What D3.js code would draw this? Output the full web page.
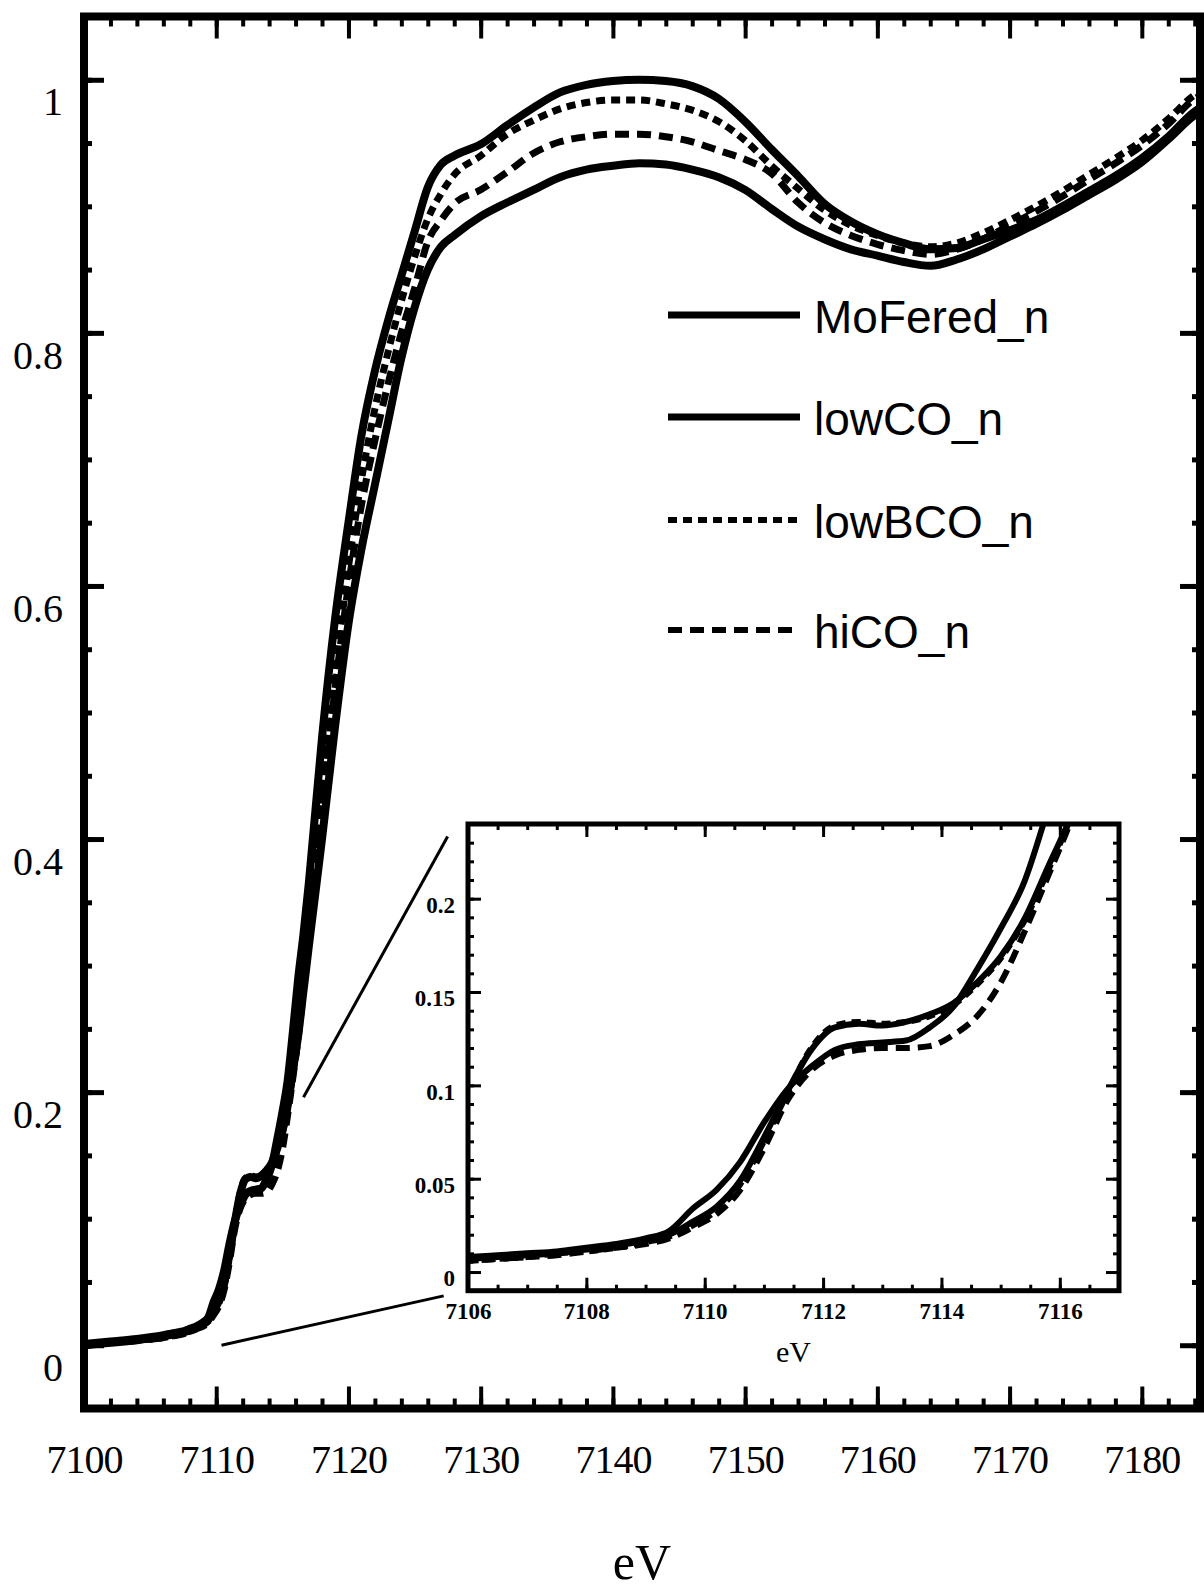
<!DOCTYPE html>
<html>
<head>
<meta charset="utf-8">
<script src="https://cdn.jsdelivr.net/npm/d3@7"></script>
<style>
  html, body { margin: 0; padding: 0; background: #fff; }
  svg { display: block; }
</style>
</head>
<body>
<svg id="chart" width="1204" height="1595"></svg>
<script>
// Photon energy grid (eV), denser through the pre-edge and edge step
const energy = [7100, 7102, 7104, 7106, 7106.5, 7107, 7107.5, 7108, 7108.5, 7109,
  7109.4, 7109.8, 7110.2, 7110.6, 7111.0, 7111.4, 7111.8, 7112.2, 7112.6, 7113.0,
  7113.4, 7113.8, 7114.2, 7114.6, 7115.0, 7115.4, 7115.8, 7116.2, 7116.6, 7117,
  7118, 7119, 7120, 7121, 7122, 7123, 7124, 7125, 7126, 7127,
  7128, 7130, 7132, 7134, 7136, 7138, 7140, 7142, 7144, 7146,
  7148, 7150, 7152, 7154, 7156, 7158, 7160, 7162, 7164, 7166,
  7168, 7170, 7172, 7174, 7176, 7178, 7180, 7182, 7184, 7185];

// Normalized absorption for each sample
const moFered = [0.001, 0.003, 0.005, 0.008, 0.009, 0.010, 0.011, 0.013, 0.015, 0.018,
  0.022, 0.034, 0.044, 0.059, 0.080, 0.098, 0.110, 0.119, 0.122, 0.123,
  0.124, 0.131, 0.142, 0.162, 0.184, 0.209, 0.248, 0.290, 0.325, 0.365,
  0.480, 0.575, 0.650, 0.720, 0.770, 0.810, 0.845, 0.880, 0.915, 0.933,
  0.940, 0.949, 0.964, 0.978, 0.990, 0.996, 0.999, 1.000, 0.999, 0.995,
  0.985, 0.967, 0.945, 0.924, 0.902, 0.888, 0.878, 0.871, 0.866, 0.867,
  0.874, 0.881, 0.889, 0.900, 0.912, 0.924, 0.938, 0.955, 0.975, 0.981];

const lowCO = [0.000, 0.002, 0.004, 0.007, 0.008, 0.009, 0.010, 0.012, 0.014, 0.017,
  0.020, 0.027, 0.035, 0.049, 0.072, 0.097, 0.119, 0.131, 0.133, 0.132,
  0.134, 0.138, 0.144, 0.155, 0.169, 0.189, 0.217, 0.245, 0.280, 0.315,
  0.400, 0.490, 0.570, 0.630, 0.680, 0.730, 0.780, 0.820, 0.850, 0.868,
  0.877, 0.892, 0.903, 0.913, 0.923, 0.929, 0.932, 0.934, 0.933, 0.929,
  0.923, 0.913, 0.898, 0.884, 0.874, 0.866, 0.861, 0.856, 0.853, 0.858,
  0.866, 0.876, 0.886, 0.897, 0.909, 0.921, 0.935, 0.953, 0.972, 0.978];

const lowBCO = [0.000, 0.002, 0.004, 0.006, 0.007, 0.008, 0.010, 0.011, 0.013, 0.016,
  0.019, 0.025, 0.033, 0.047, 0.070, 0.096, 0.120, 0.132, 0.134, 0.133,
  0.134, 0.137, 0.143, 0.154, 0.168, 0.188, 0.215, 0.245, 0.285, 0.330,
  0.430, 0.530, 0.615, 0.685, 0.740, 0.785, 0.825, 0.860, 0.890, 0.910,
  0.925, 0.940, 0.957, 0.968, 0.977, 0.982, 0.984, 0.984, 0.981, 0.976,
  0.967, 0.952, 0.932, 0.914, 0.897, 0.885, 0.877, 0.871, 0.868, 0.871,
  0.879, 0.889, 0.900, 0.912, 0.925, 0.938, 0.952, 0.969, 0.988, 0.993];

const hiCO = [0.000, 0.002, 0.004, 0.006, 0.007, 0.008, 0.009, 0.011, 0.013, 0.015,
  0.018, 0.024, 0.031, 0.044, 0.066, 0.092, 0.108, 0.116, 0.119, 0.120,
  0.120, 0.121, 0.127, 0.137, 0.155, 0.182, 0.212, 0.243, 0.282, 0.325,
  0.425, 0.520, 0.600, 0.665, 0.715, 0.760, 0.800, 0.835, 0.872, 0.889,
  0.902, 0.913, 0.927, 0.942, 0.951, 0.955, 0.957, 0.957, 0.955, 0.951,
  0.944, 0.937, 0.926, 0.903, 0.887, 0.877, 0.870, 0.865, 0.862, 0.866,
  0.874, 0.885, 0.896, 0.908, 0.921, 0.934, 0.948, 0.965, 0.985, 0.990];

const seriesNames = ["MoFered_n", "lowCO_n", "lowBCO_n", "hiCO_n"];
const seriesValues = [moFered, lowCO, lowBCO, hiCO];

// Axis tick labels
const xTickLabels = [7100, 7110, 7120, 7130, 7140, 7150, 7160, 7170, 7180];
const yTickLabels = [0, 0.2, 0.4, 0.6, 0.8, 1];
const insetXTickLabels = [7106, 7108, 7110, 7112, 7114, 7116];
const insetYTickLabels = [0, 0.05, 0.1, 0.15, 0.2];

// Zoom guide segments (energy, absorption) on the main plot
const guideLower = [[7110.4, 0.0], [7127.2, 0.039]];
const guideUpper = [[7116.6, 0.196], [7127.5, 0.402]];

// Line styles per series
const styles = {
  "MoFered_n": { dash: null },
  "lowCO_n":   { dash: null },
  "lowBCO_n":  { dash: [9, 6] },
  "hiCO_n":    { dash: [14, 8] }
};

const series = seriesNames.map((name, i) => ({
  name,
  points: energy.map((e, j) => ({ e, v: seriesValues[i][j] }))
}));

const svg = d3.select("#chart");
svg.append("rect").attr("width", 1204).attr("height", 1595).attr("fill", "#fff");

const serif = "'Liberation Serif', 'Times New Roman', serif";
const sans = "'Liberation Sans', Arial, sans-serif";

// ---------- main plot ----------
const x = d3.scaleLinear().domain([7100, 7184.4]).range([84, 1200]);
const y = d3.scaleLinear().domain([-0.05, 1.05]).range([1408.5, 16.5]);
const [xL, xR] = x.range();
const [yB, yT] = y.range();

const defs = svg.append("defs");
defs.append("clipPath").attr("id", "mainClip")
  .append("rect").attr("x", xL).attr("y", yT).attr("width", xR - xL).attr("height", yB - yT);

const line = d3.line().x(d => x(d.e)).y(d => y(d.v)).curve(d3.curveMonotoneX);

const plot = svg.append("g").attr("clip-path", "url(#mainClip)");
plot.selectAll("path.series")
  .data(series)
  .join("path")
  .attr("class", "series")
  .attr("fill", "none")
  .attr("stroke", "#000")
  .attr("stroke-width", d => styles[d.name].dash ? 7 : 8)
  .attr("stroke-linejoin", "round")
  .attr("stroke-dasharray", d => styles[d.name].dash ? styles[d.name].dash.join(",") : null)
  .attr("d", d => line(d.points));

// zoom guide segments
plot.selectAll("line.guide")
  .data([guideLower, guideUpper])
  .join("line")
  .attr("class", "guide")
  .attr("x1", d => x(d[0][0])).attr("y1", d => y(d[0][1]))
  .attr("x2", d => x(d[1][0])).attr("y2", d => y(d[1][1]))
  .attr("stroke", "#000").attr("stroke-width", 3);

function styleTicks(g, w) {
  g.select(".domain").remove();
  g.selectAll(".tick line").attr("stroke", "#000").attr("stroke-width", w);
}

const xMinor = d3.range(7100, 7185, 2);
const yMinor = d3.range(-0.05, 1.051, 0.05).map(v => +v.toFixed(2));

// bottom
svg.append("g").attr("transform", `translate(0,${yB})`)
  .call(d3.axisBottom(x).tickValues(xMinor).tickSize(-10).tickFormat(""))
  .call(g => styleTicks(g, 4));
svg.append("g").attr("transform", `translate(0,${yB})`)
  .call(d3.axisBottom(x).tickValues(xTickLabels).tickSize(-22).tickPadding(36).tickFormat(d3.format("d")))
  .call(g => styleTicks(g, 4))
  .call(g => g.selectAll("text").attr("font-family", serif).attr("font-size", 40)
    .attr("letter-spacing", -1).attr("fill", "#000"));
// top
svg.append("g").attr("transform", `translate(0,${yT})`)
  .call(d3.axisTop(x).tickValues(xMinor).tickSize(-10).tickFormat(""))
  .call(g => styleTicks(g, 4));
svg.append("g").attr("transform", `translate(0,${yT})`)
  .call(d3.axisTop(x).tickValues(xTickLabels).tickSize(-22).tickFormat(""))
  .call(g => styleTicks(g, 4));
// left
svg.append("g").attr("transform", `translate(${xL},0)`)
  .call(d3.axisLeft(y).tickValues(yMinor).tickSize(-8).tickFormat(""))
  .call(g => styleTicks(g, 5));
svg.append("g").attr("transform", `translate(${xL},0)`)
  .call(d3.axisLeft(y).tickValues(yTickLabels).tickSize(-20).tickPadding(21).tickFormat(d => String(d)))
  .call(g => styleTicks(g, 5))
  .call(g => g.selectAll("text").attr("font-family", serif).attr("font-size", 40)
    .attr("dy", "0.88em").attr("fill", "#000"));
// right
svg.append("g").attr("transform", `translate(${xR},0)`)
  .call(d3.axisRight(y).tickValues(yMinor).tickSize(-8).tickFormat(""))
  .call(g => styleTicks(g, 5));
svg.append("g").attr("transform", `translate(${xR},0)`)
  .call(d3.axisRight(y).tickValues(yTickLabels).tickSize(-20).tickFormat(""))
  .call(g => styleTicks(g, 5));

// frame
svg.append("rect").attr("x", xL).attr("y", yT).attr("width", xR - xL).attr("height", yB - yT)
  .attr("fill", "none").attr("stroke", "#000").attr("stroke-width", 8);

// main axis title
svg.append("text").attr("x", (xL + xR) / 2).attr("y", 1579)
  .attr("text-anchor", "middle").attr("font-family", serif).attr("font-size", 50)
  .text("eV");

// ---------- legend ----------
const legendRows = [315, 417, 520, 630];
const legend = svg.append("g");
legend.selectAll("line")
  .data(seriesNames)
  .join("line")
  .attr("x1", 668).attr("x2", 800)
  .attr("y1", (d, i) => legendRows[i]).attr("y2", (d, i) => legendRows[i])
  .attr("stroke", "#000")
  .attr("stroke-width", d => styles[d].dash ? 6 : 7)
  .attr("stroke-dasharray", d => styles[d].dash ? styles[d].dash.join(",") : null);
legend.selectAll("text")
  .data(seriesNames)
  .join("text")
  .attr("x", 814).attr("y", (d, i) => legendRows[i] + 18)
  .attr("font-family", sans).attr("font-size", 46)
  .text(d => d);

// ---------- inset ----------
const xi = d3.scaleLinear().domain([7106, 7117]).range([468, 1119]);
const yi = d3.scaleLinear().domain([-0.01, 0.24]).range([1290.7, 824]);
const [ixL, ixR] = xi.range();
const [iyB, iyT] = yi.range();

svg.append("rect").attr("x", ixL).attr("y", iyT).attr("width", ixR - ixL).attr("height", iyB - iyT)
  .attr("fill", "#fff");
defs.append("clipPath").attr("id", "insetClip")
  .append("rect").attr("x", ixL).attr("y", iyT).attr("width", ixR - ixL).attr("height", iyB - iyT);

const iline = d3.line().x(d => xi(d.e)).y(d => yi(d.v)).curve(d3.curveMonotoneX);
svg.append("g").attr("clip-path", "url(#insetClip)")
  .selectAll("path")
  .data(series)
  .join("path")
  .attr("fill", "none")
  .attr("stroke", "#000")
  .attr("stroke-width", 6)
  .attr("stroke-linejoin", "round")
  .attr("stroke-dasharray", d => styles[d.name].dash ? styles[d.name].dash.join(",") : null)
  .attr("d", d => iline(d.points.filter(p => p.e >= 7104 && p.e <= 7119)));

const ixMinor = d3.range(7106, 7117.01, 0.5);
const iyMinor = d3.range(-0.01, 0.2401, 0.01).map(v => +v.toFixed(2));

svg.append("g").attr("transform", `translate(0,${iyB})`)
  .call(d3.axisBottom(xi).tickValues(ixMinor).tickSize(-6).tickFormat(""))
  .call(g => styleTicks(g, 3));
svg.append("g").attr("transform", `translate(0,${iyB})`)
  .call(d3.axisBottom(xi).tickValues(insetXTickLabels).tickSize(-13).tickPadding(12).tickFormat(d3.format("d")))
  .call(g => styleTicks(g, 3))
  .call(g => g.selectAll("text").attr("font-family", serif).attr("font-size", 23)
    .attr("font-weight", "bold").attr("fill", "#000"));
svg.append("g").attr("transform", `translate(0,${iyT})`)
  .call(d3.axisTop(xi).tickValues(ixMinor).tickSize(-6).tickFormat(""))
  .call(g => styleTicks(g, 3));
svg.append("g").attr("transform", `translate(0,${iyT})`)
  .call(d3.axisTop(xi).tickValues(insetXTickLabels).tickSize(-13).tickFormat(""))
  .call(g => styleTicks(g, 3));
svg.append("g").attr("transform", `translate(${ixL},0)`)
  .call(d3.axisLeft(yi).tickValues(iyMinor).tickSize(-6).tickFormat(""))
  .call(g => styleTicks(g, 3));
svg.append("g").attr("transform", `translate(${ixL},0)`)
  .call(d3.axisLeft(yi).tickValues(insetYTickLabels).tickSize(-13).tickPadding(13).tickFormat(d => String(d)))
  .call(g => styleTicks(g, 3))
  .call(g => g.selectAll("text").attr("font-family", serif).attr("font-size", 23)
    .attr("font-weight", "bold").attr("dy", "0.6em").attr("fill", "#000"));
svg.append("g").attr("transform", `translate(${ixR},0)`)
  .call(d3.axisRight(yi).tickValues(iyMinor).tickSize(-6).tickFormat(""))
  .call(g => styleTicks(g, 3));
svg.append("g").attr("transform", `translate(${ixR},0)`)
  .call(d3.axisRight(yi).tickValues(insetYTickLabels).tickSize(-13).tickFormat(""))
  .call(g => styleTicks(g, 3));

svg.append("rect").attr("x", ixL).attr("y", iyT).attr("width", ixR - ixL).attr("height", iyB - iyT)
  .attr("fill", "none").attr("stroke", "#000").attr("stroke-width", 5);

svg.append("text").attr("x", (ixL + ixR) / 2).attr("y", 1362)
  .attr("text-anchor", "middle").attr("font-family", serif).attr("font-size", 30)
  .text("eV");
</script>
</body>
</html>
